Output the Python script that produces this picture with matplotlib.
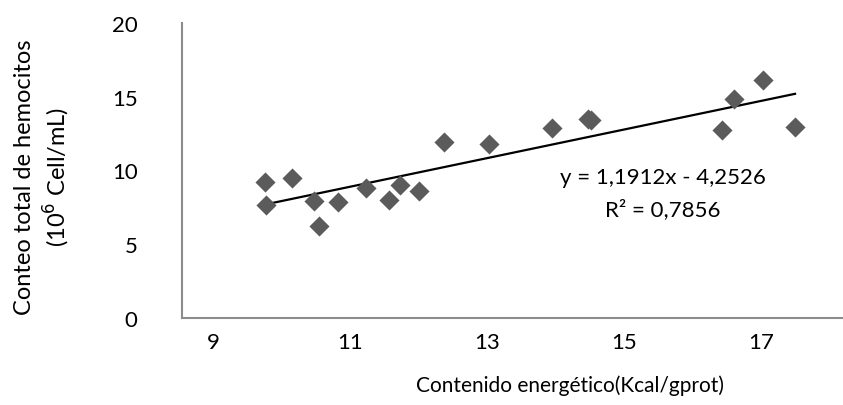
import matplotlib.pyplot as plt
import numpy as np

# ---------------------
# Data
# ---------------------
energia = [9.76, 9.78, 10.15, 10.47, 10.55, 10.83, 11.23, 11.57, 11.73, 12.01,
           12.37, 13.03, 13.95, 14.47, 14.52, 16.44, 16.61, 17.03, 17.50]
hemocitos = [9.25, 7.64, 9.46, 7.91, 6.21, 7.87, 8.82, 8.03, 9.03, 8.64,
             11.95, 11.77, 12.86, 13.47, 13.40, 12.74, 14.85, 16.12, 12.93]
x_ticks = [9, 11, 13, 15, 17]
y_ticks = [0, 5, 10, 15, 20]
eq_text = "y = 1,1912x - 4,2526"
r2_text = "R² = 0,7856"

plt.rcParams['font.family'] = ['Lato', 'DejaVu Sans']

fig = plt.figure(figsize=(8.43, 4.06), dpi=100)
ax = fig.add_axes([182/843, 1 - 319/406, 1 - 182/843, (319 - 24)/406])

ax.scatter(energia, hemocitos, marker="D", s=105, color="#5b5b5b", zorder=3,
           linewidths=0)

# linea de tendencia lineal
coef = np.polyfit(energia, hemocitos, 1)
xs = np.array([min(energia), max(energia)])
ax.plot(xs, np.polyval(coef, xs), color="black", lw=1.6, zorder=2)

ax.set_xlim(8.55, 18.2)
ax.set_ylim(0, 20)
ax.set_xticks(x_ticks)
ax.set_yticks(y_ticks)
ax.tick_params(axis="both", length=0, labelsize=16)
ax.tick_params(axis="x", pad=10)
ax.tick_params(axis="y", pad=32)

for s in ["top", "right"]:
    ax.spines[s].set_visible(False)
for s in ["left", "bottom"]:
    ax.spines[s].set_color("#8c8c8c")
    ax.spines[s].set_linewidth(1.5)

fig.text(663/843, 1 - 178/406, eq_text, ha="center", va="center", fontsize=16)
fig.text(663/843, 1 - 210/406, r2_text, ha="center", va="center", fontsize=16)

fig.text(570/843, 1 - 386/406, "Contenido energético(Kcal/gprot)",
         ha="center", va="center", fontsize=15)
fig.text(25/843, 1 - 177/406, "Conteo total de hemocitos",
         rotation=90, ha="center", va="center", fontsize=17)
fig.text(57/843, 1 - 177/406, "(10$^6$ Cell/mL)",
         rotation=90, ha="center", va="center", fontsize=17)

fig.savefig("out.png", dpi=100)
